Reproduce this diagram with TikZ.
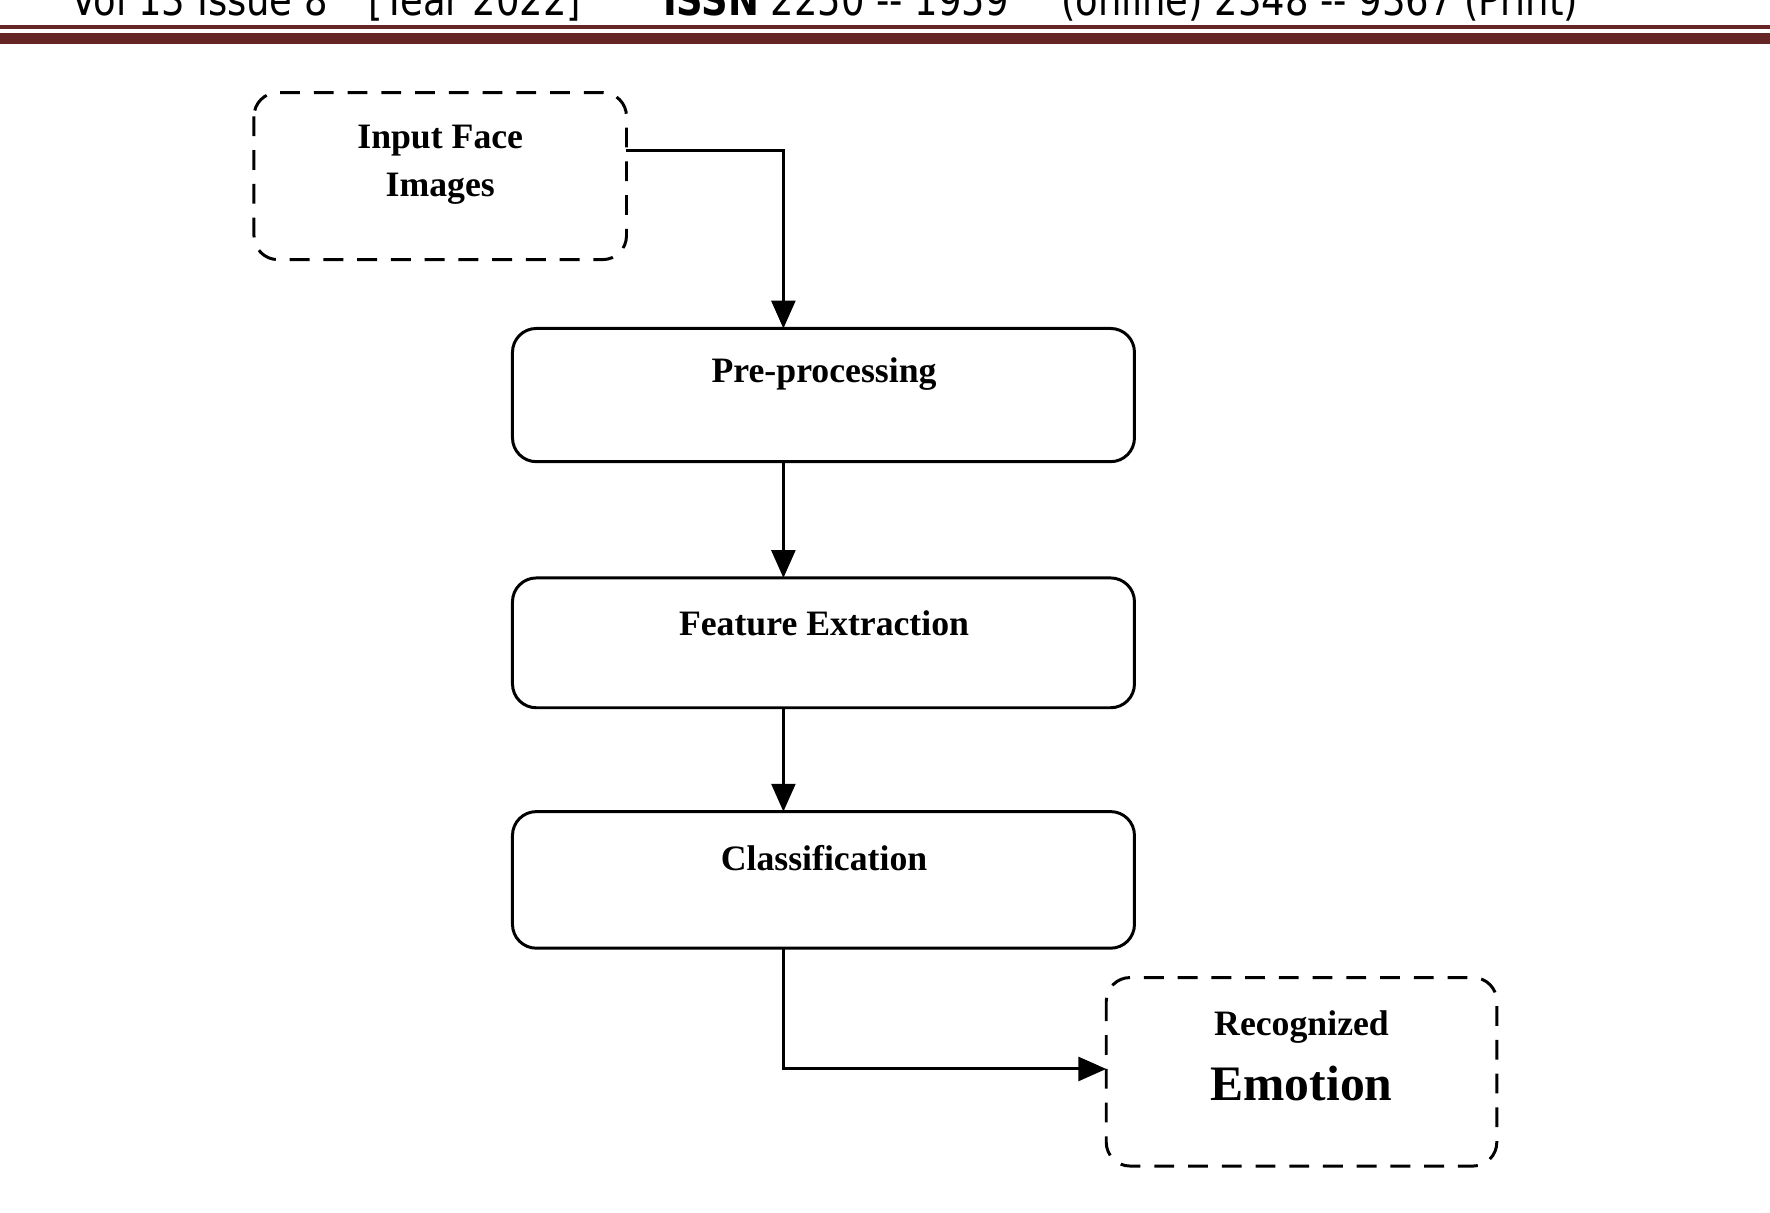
\documentclass[tikz,border=0pt]{standalone}
\usepackage{fontspec}
\setmainfont{Liberation Serif}
\newfontfamily\hdr{DejaVu Sans Condensed}
\usetikzlibrary{arrows.meta}
\definecolor{rule}{RGB}{102,38,38}
\begin{document}
\begin{tikzpicture}[x=0.01cm,y=-0.01cm,
 box/.style={draw,line width=0.75pt,rounded corners=6pt,inner sep=0pt},
 dbox/.style={box,dashed,dash pattern=on 5pt off 3.5pt},
 lbl/.style={font=\fontsize{9}{11}\selectfont\bfseries,align=center},
 arr/.style={line width=0.75pt,-{Triangle[length=7pt,width=6pt]}}]
\useasboundingbox (0,0) rectangle (1568,1074);
\begin{scope}
\clip (0,0) rectangle (1568,20);
\node[font=\hdr\fontsize{11}{13}\selectfont,anchor=base west,xscale=0.94] (h) at (52,14) {Vol 13 Issue 8\quad[Year 2022]\qquad \textbf{ISSN} 2250 -- 1959 \quad (online) 2348 -- 9367 (Print)};
\end{scope}
\fill[rule] (0,22) rectangle (1568,26);
\fill[rule] (0,29) rectangle (1568,39);
\draw[dbox] (225,82) rectangle (555,230);
\node[lbl] (in) at (390,146) {Input Face\\[1pt]Images};
\coordinate (inr) at (555,133);
\draw[box] (454,291) rectangle (1005,409);
\node[lbl] (pre) at (730,331) {Pre-processing};
\draw[box] (454,512) rectangle (1005,627);
\node[lbl] (fe) at (730,552) {Feature Extraction};
\draw[box] (454,719) rectangle (1005,840);
\node[lbl] (cl) at (730,760) {Classification};
\draw[dbox] (980,866) rectangle (1326,1033);
\node[lbl] (rec) at (1153,910) {Recognized};
\node[font=\fontsize{12.5}{14}\selectfont\bfseries] (emo) at (1153,960) {Emotion};
\coordinate (pt) at (694,291); \coordinate (pb) at (694,409);
\coordinate (ft) at (694,512); \coordinate (fb) at (694,627);
\coordinate (ct) at (694,719); \coordinate (cb) at (694,840);
\coordinate (rl) at (980,947);
\draw[arr] (inr) -| (pt);
\draw[arr] (pb) -- (ft);
\draw[arr] (fb) -- (ct);
\draw[arr] (cb) |- (rl);
\end{tikzpicture}
\end{document}
